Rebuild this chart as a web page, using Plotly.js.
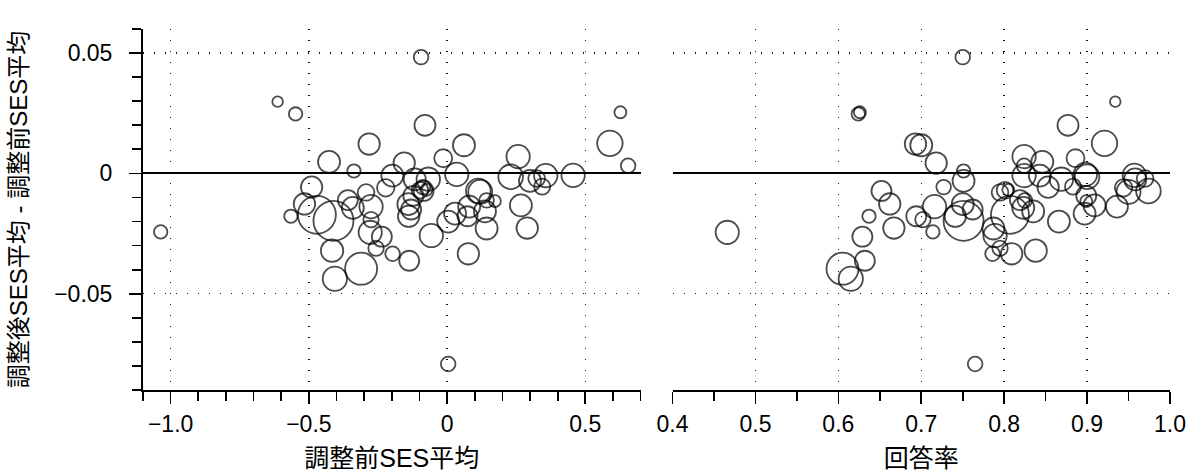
<!DOCTYPE html>
<html>
<head>
<meta charset="utf-8">
<script src="https://cdn.plot.ly/plotly-3.0.1.min.js"></script>
<style>
html,body{margin:0;padding:0;background:#fff;}
#chart{width:1190px;height:472px;}
</style>
</head>
<body>
<div id="chart"></div>
<script>
// 調整前SES平均 (left panel x)
const preSES = [
  -0.094, -0.613, 0.627, -0.548, -0.080, 0.589, -0.282, 0.061, 0.257, -0.014,
  -0.427, -0.155, 0.655, -0.337, 0.035, 0.456, 0.357, -0.198, 0.230, 0.324,
  -0.117, -0.068, 0.300, -0.490, -0.222, 0.344, 0.113, 0.120, -0.293, -0.122,
  -0.087, -0.075, -0.098, -0.085, -0.359, 0.143, 0.173, -0.516, -0.140, 0.267,
  -0.275, 0.080, -0.341, -0.130, 0.137, 0.029, -0.139, -0.471, -0.565, 0.074,
  -0.275, -0.411, 0.004, 0.290, 0.143, -0.278, -1.036, -0.057, -0.236, -0.257,
  -0.416, -0.197, 0.077, -0.137, -0.311, -0.406, 0.004
];
// 回答率 (right panel x)
const responseRate = [
  0.750, 0.934, 0.626, 0.624, 0.877, 0.921, 0.693, 0.700, 0.824, 0.886,
  0.846, 0.718, 0.824, 0.751, 0.898, 0.957, 0.824, 0.843, 0.900, 0.970,
  0.958, 0.869, 0.751, 0.853, 0.944, 0.883, 0.974, 0.950, 0.795, 0.899,
  0.727, 0.805, 0.801, 0.652, 0.819, 0.825, 0.899, 0.662, 0.750, 0.909,
  0.716, 0.936, 0.823, 0.762, 0.835, 0.897, 0.741, 0.807, 0.637, 0.694,
  0.702, 0.751, 0.866, 0.667, 0.787, 0.466, 0.714, 0.789, 0.629, 0.795,
  0.838, 0.786, 0.809, 0.632, 0.605, 0.615, 0.765
];
// 調整後SES平均 - 調整前SES平均 (y)
const sesDiff = [
  0.0483, 0.0298, 0.0254, 0.0247, 0.0200, 0.0125, 0.0122, 0.0117, 0.0070, 0.0063,
  0.0048, 0.0043, 0.0032, 0.0010, -0.0004, -0.0008, -0.0009, -0.0009, -0.0014, -0.0021,
  -0.0025, -0.0024, -0.0031, -0.0057, -0.0060, -0.0055, -0.0073, -0.0077, -0.0079, -0.0093,
  -0.0057, -0.0068, -0.0070, -0.0073, -0.0111, -0.0112, -0.0115, -0.0127, -0.0128, -0.0133,
  -0.0138, -0.0138, -0.0143, -0.0150, -0.0158, -0.0167, -0.0178, -0.0172, -0.0178, -0.0178,
  -0.0192, -0.0197, -0.0200, -0.0227, -0.0229, -0.0245, -0.0243, -0.0258, -0.0263, -0.0311,
  -0.0321, -0.0334, -0.0334, -0.0363, -0.0396, -0.0438, -0.0792
];
// 回答者数 (bubble area)
const nResp = [
  107, 56, 72, 90, 220, 323, 229, 242, 274, 162,
  242, 229, 107, 90, 274, 274, 274, 242, 303, 138,
  242, 274, 242, 229, 151, 128, 303, 288, 138, 200,
  107, 72, 138, 200, 200, 107, 72, 229, 242, 242,
  274, 242, 242, 200, 242, 242, 229, 722, 90, 200,
  119, 800, 242, 229, 242, 270, 90, 274, 200, 119,
  250, 107, 229, 200, 512, 295, 107
];

const leftTickVals = [-1.0, -0.5, 0, 0.5];
const leftTickText = ['\u22121.0', '\u22120.5', '0', '0.5'];
const rightTickVals = [0.4, 0.5, 0.6, 0.7, 0.8, 0.9, 1.0];
const rightTickText = ['0.4', '0.5', '0.6', '0.7', '0.8', '0.9', '1.0'];
const yTickVals = [-0.05, 0, 0.05];
const yTickText = ['\u22120.05', '0', '0.05'];

const FONT = 'Liberation Sans, Arial, Noto Sans CJK JP, sans-serif';
const markerStyle = {
  color: 'rgba(0,0,0,0)',
  size: nResp,
  sizemode: 'area',
  sizeref: 1,
  line: {color: '#000', width: 1.8}
};

const traces = [
  {type: 'scatter', mode: 'markers', x: preSES, y: sesDiff, xaxis: 'x', yaxis: 'y',
   marker: markerStyle, hoverinfo: 'skip', cliponaxis: false},
  {type: 'scatter', mode: 'markers', x: responseRate, y: sesDiff, xaxis: 'x2', yaxis: 'y',
   marker: markerStyle, hoverinfo: 'skip', cliponaxis: false}
];

const gridCommon = {
  showgrid: true, gridcolor: '#111', gridwidth: 1.4, griddash: '1.4px,9.6px'
};
const minorCommon = {ticks: 'outside', ticklen: 9, tickwidth: 1.7, tickcolor: '#000', showgrid: false};

const layout = {
  width: 1190, height: 472,
  margin: {l: 143, r: 20, t: 29, b: 82, pad: 0},
  paper_bgcolor: '#fff', plot_bgcolor: '#fff',
  showlegend: false,
  font: {family: FONT, size: 23, color: '#000'},
  xaxis: Object.assign({}, gridCommon, {
    domain: [0, 0.4845], range: [-1.1, 0.7], anchor: 'y',
    tickmode: 'array', tickvals: leftTickVals, ticktext: leftTickText,
    ticks: 'outside', ticklen: 12, tickwidth: 1.7, tickcolor: '#000',
    minor: Object.assign({}, minorCommon, {tickmode: 'linear', tick0: 0, dtick: 0.1}),
    showline: true, linecolor: '#000', linewidth: 2, zeroline: false,
    title: {text: '調整前SES平均', font: {size: 25}, standoff: 15}
  }),
  xaxis2: Object.assign({}, gridCommon, {
    domain: [0.5156, 1], range: [0.4, 1.0], anchor: 'y',
    tickmode: 'array', tickvals: rightTickVals, ticktext: rightTickText,
    ticks: 'outside', ticklen: 12, tickwidth: 1.7, tickcolor: '#000',
    minor: Object.assign({}, minorCommon, {tickmode: 'linear', tick0: 0.4, dtick: 0.05}),
    showline: true, linecolor: '#000', linewidth: 2, zeroline: false,
    title: {text: '回答率', font: {size: 25}, standoff: 15}
  }),
  yaxis: Object.assign({}, gridCommon, {
    range: [-0.09, 0.06], anchor: 'x',
    tickmode: 'array', tickvals: yTickVals, ticktext: yTickText,
    ticks: 'outside', ticklen: 12, tickwidth: 1.7, tickcolor: '#000',
    ticklabelstandoff: 12,
    minor: Object.assign({}, minorCommon, {tickmode: 'linear', tick0: 0, dtick: 0.01}),
    showline: true, linecolor: '#000', linewidth: 2,
    zeroline: true, zerolinecolor: '#000', zerolinewidth: 2,
    title: {text: '調整後SES平均 - 調整前SES平均', font: {size: 24}, standoff: 20}
  })
};

Plotly.newPlot('chart', traces, layout, {staticPlot: true, displayModeBar: false});
</script>
</body>
</html>
